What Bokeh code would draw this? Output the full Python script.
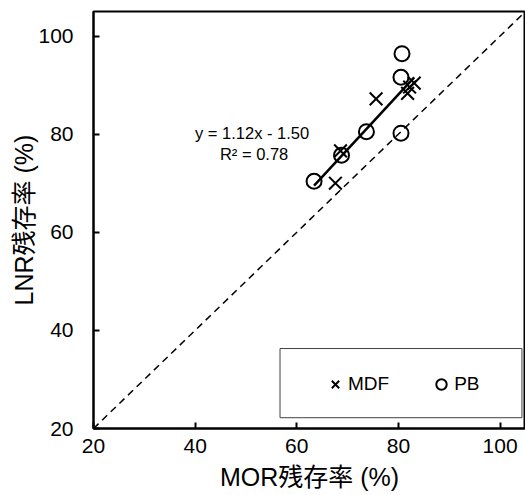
from bokeh.plotting import figure
from bokeh.models import Range1d, FixedTicker, Slope, Legend, LegendItem, BoxAnnotation, Label
from bokeh.embed import file_html
from bokeh.resources import INLINE

# Data
mdf_mor = [67.6, 68.6, 75.6, 81.8, 82.2, 83.1]
mdf_lnr = [70.0, 76.6, 87.2, 88.3, 89.6, 90.4]
pb_mor = [63.4, 68.8, 73.7, 80.5, 80.5, 80.7]
pb_lnr = [70.4, 75.7, 80.5, 80.2, 91.6, 96.4]
fit_slope = 1.12
fit_intercept = -1.50
r2 = 0.78
ticks = [20, 40, 60, 80, 100]
x_title = "MOR残存率 (%)"
y_title = "LNR残存率 (%)"

FONT = "Liberation Sans, Noto Sans CJK JP"

p = figure(width=525, height=495, output_backend="svg", toolbar_location=None,
           x_range=Range1d(20, 105), y_range=Range1d(20, 105),
           min_border_left=93, min_border_right=0, min_border_top=11, min_border_bottom=67)
p.grid.visible = False
p.outline_line_color = "black"
p.outline_line_width = 2

for ax in (p.xaxis[0], p.yaxis[0]):
    ax.ticker = FixedTicker(ticks=ticks)
    ax.minor_tick_line_color = None
    ax.major_tick_in = 6
    ax.major_tick_out = 0
    ax.major_tick_line_width = 2
    ax.axis_line_width = 2
    ax.axis_line_color = "black"
    ax.major_label_text_font = FONT
    ax.major_label_text_font_size = "21px"
    ax.major_label_text_color = "black"
    ax.axis_label_text_font = FONT
    ax.axis_label_text_font_size = "25px"
    ax.axis_label_text_font_style = "normal"
    ax.axis_label_text_color = "black"

p.xaxis[0].axis_label = x_title
p.yaxis[0].axis_label = y_title
p.xaxis[0].major_label_standoff = 10
p.yaxis[0].major_label_standoff = 20
p.xaxis[0].axis_label_standoff = 7
p.yaxis[0].axis_label_standoff = -3

# 1:1 line
p.add_layout(Slope(gradient=1, y_intercept=0, line_color="black", line_width=1.5, line_dash="7 5"))

# regression line over data range
all_x = mdf_mor + pb_mor
x0, x1 = min(all_x), max(all_x)
p.line([x0, x1], [fit_slope * x0 + fit_intercept, fit_slope * x1 + fit_intercept],
       line_color="black", line_width=2.5)

r_mdf = p.scatter(mdf_mor, mdf_lnr, marker="x", size=18, line_color="black", line_width=2)
r_pb = p.scatter(pb_mor, pb_lnr, marker="circle", size=15, line_color="black", line_width=2,
                 fill_color=None)

p.add_layout(BoxAnnotation(left=56.7, right=104.3, bottom=22.2, top=36.3,
                           fill_alpha=0, line_color="#404040", line_alpha=1, line_width=1))
legend = Legend(items=[LegendItem(label="MDF", renderers=[r_mdf]),
                       LegendItem(label="PB", renderers=[r_pb])],
                orientation="horizontal", location=(224, 26), padding=5, margin=0,
                glyph_width=26, glyph_height=26, label_standoff=0, spacing=39,
                background_fill_alpha=0, border_line_alpha=0,
                label_text_font=FONT, label_text_font_size="19px", label_text_color="black")
p.add_layout(legend)

eq = f"y = {fit_slope:.2f}x - {abs(fit_intercept):.2f}"
p.add_layout(Label(x=51.2, y=80.2, text=eq, text_align="center", text_baseline="middle",
                   text_font=FONT, text_font_size="16.5px", text_color="black"))
p.add_layout(Label(x=51.6, y=76.0, text=f"R² = {r2:.2f}", text_align="center",
                   text_baseline="middle", text_font=FONT, text_font_size="16.5px",
                   text_color="black"))

open("out.html", "w").write(file_html(p, INLINE))
